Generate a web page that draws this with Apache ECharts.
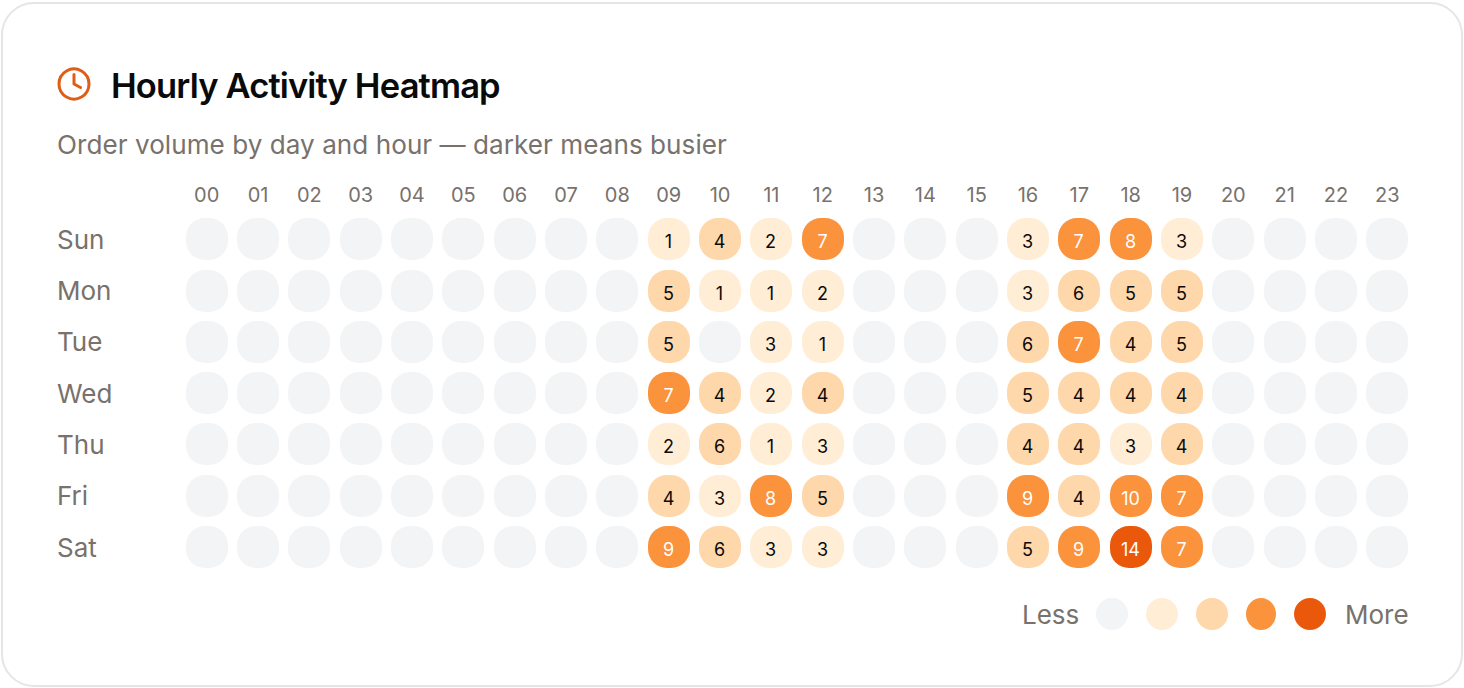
<!DOCTYPE html>
<html><head><meta charset="utf-8">
<style>html,body{margin:0;padding:0;background:#fff}#c{width:1464px;height:688px}
text[style*="34.5px"]{letter-spacing:-0.85px}
text[style*="26.1px"]{letter-spacing:0.04px}
</style>
<script src="https://cdn.jsdelivr.net/npm/echarts@6/dist/echarts.min.js"></script>
</head><body><div id="c"></div>
<script>
const hours = ['00','01','02','03','04','05','06','07','08','09','10','11','12','13','14','15','16','17','18','19','20','21','22','23'];
const days = ['Sun','Mon','Tue','Wed','Thu','Fri','Sat'];
const sun = [0,0,0,0,0,0,0,0,0,1,4,2,7,0,0,0,3,7,8,3,0,0,0,0];
const mon = [0,0,0,0,0,0,0,0,0,5,1,1,2,0,0,0,3,6,5,5,0,0,0,0];
const tue = [0,0,0,0,0,0,0,0,0,5,0,3,1,0,0,0,6,7,4,5,0,0,0,0];
const wed = [0,0,0,0,0,0,0,0,0,7,4,2,4,0,0,0,5,4,4,4,0,0,0,0];
const thu = [0,0,0,0,0,0,0,0,0,2,6,1,3,0,0,0,4,4,3,4,0,0,0,0];
const fri = [0,0,0,0,0,0,0,0,0,4,3,8,5,0,0,0,9,4,10,7,0,0,0,0];
const sat = [0,0,0,0,0,0,0,0,0,9,6,3,3,0,0,0,5,9,14,7,0,0,0,0];
const rows = [sun,mon,tue,wed,thu,fri,sat];
const palette = ['#f3f4f6','#ffedd5','#fed7aa','#fb923c','#ea580c'];
const levelOf = v => v===0?0 : v<=3?1 : v<=6?2 : v<=10?3 : 4;
const cells = [];
rows.forEach((r,y)=>r.forEach((v,x)=>cells.push([x,y,v])));
const FONT = 'Inter';
const GREY = '#78716c';
const chart = echarts.init(document.getElementById('c'),null,{renderer:'svg'});
const swatch = (cx,rx,color)=>({type:'ellipse',shape:{cx,cy:614,rx,ry:16},style:{fill:color},silent:true});
chart.setOption({
  animation:false,
  backgroundColor:'#fff',
  textStyle:{fontFamily:FONT},
  title:[
    {text:'Hourly Activity Heatmap',left:111,top:65,padding:0,textStyle:{fontFamily:FONT,fontSize:34.5,fontWeight:600,color:'#0a0a0a',lineHeight:40}},
    {text:'Order volume by day and hour — darker means busier',left:57,top:129,padding:0,textStyle:{fontFamily:FONT,fontSize:26.1,fontWeight:400,color:GREY,lineHeight:30}}
  ],
  grid:{left:181,top:213.7,width:1232,height:359},
  xAxis:{type:'category',position:'top',data:hours,axisLine:{show:false},axisTick:{show:false},splitLine:{show:false},
    axisLabel:{interval:0,color:GREY,fontFamily:FONT,fontSize:20,margin:9}},
  yAxis:{type:'category',inverse:true,data:days,axisLine:{show:false},axisTick:{show:false},splitLine:{show:false},
    axisLabel:{color:GREY,fontFamily:FONT,fontSize:26,align:'left',margin:124,padding:[10,0,0,0]}},
  series:[{
    type:'custom',
    coordinateSystem:'cartesian2d',
    data:cells,
    encode:{x:0,y:1},
    clip:false,
    renderItem(params,api){
      const c = api.coord([api.value(0),api.value(1)]);
      const v = api.value(2), l = levelOf(v);
      const x = Math.round(c[0]-21), y = Math.round(c[1]-21);
      return {type:'group',children:[
        {type:'rect',shape:{x,y,width:42,height:42,r:19},style:{fill:palette[l]}},
        {type:'text',style:{x:x+20.5,y:y+23,text:v?String(v):'',align:'center',verticalAlign:'middle',
          fontFamily:FONT,fontSize:18,fill:l>=3?'#fff':'#0a0a0a'}}
      ]};
    }
  }],
  graphic:[
    {type:'rect',z:-10,silent:true,shape:{x:2,y:3,width:1460,height:683,r:32},style:{fill:'#fff',stroke:'#e5e5e5',lineWidth:2}},
    {type:'circle',silent:true,shape:{cx:74,cy:84,r:15},style:{fill:'none',stroke:'#df5d17',lineWidth:3}},
    {type:'polyline',silent:true,shape:{points:[[74,74.5],[74,84],[80.5,87.5]]},style:{fill:'none',stroke:'#df5d17',lineWidth:3,lineCap:'round',lineJoin:'round'}},
    {type:'text',silent:true,style:{x:1022,y:614,text:'Less',verticalAlign:'middle',fontFamily:FONT,fontSize:26,fill:GREY}},
    swatch(1112,16,palette[0]),swatch(1162,16,palette[1]),swatch(1212,16,palette[2]),swatch(1261,15,palette[3]),swatch(1310,16,palette[4]),
    {type:'text',silent:true,style:{x:1345,y:614,text:'More',verticalAlign:'middle',fontFamily:FONT,fontSize:26,fill:GREY}}
  ]
});
</script></body></html>
